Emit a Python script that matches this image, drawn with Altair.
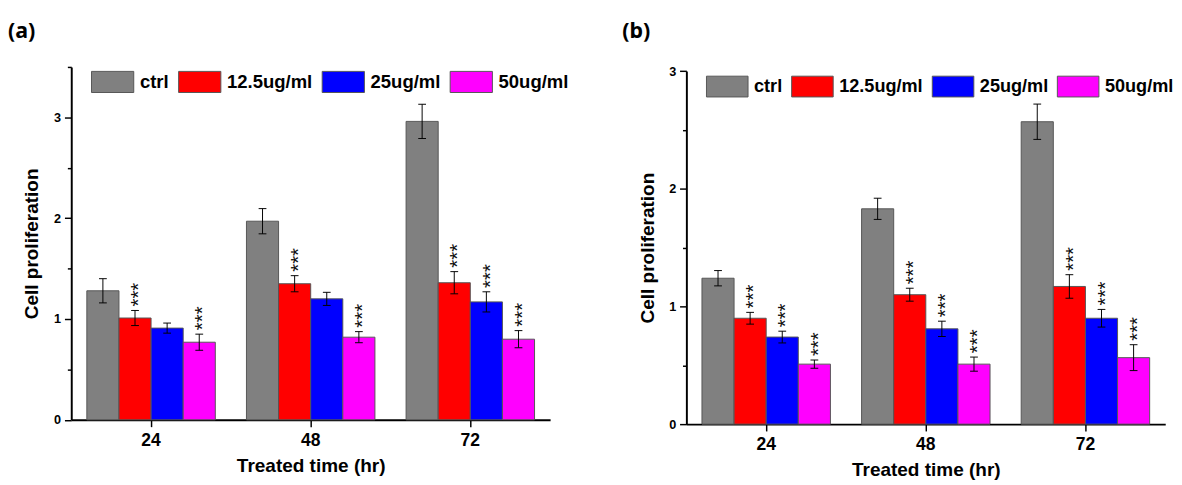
import altair as alt
import pandas as pd

times = ["24", "48", "72"]
series = ["ctrl", "12.5ug/ml", "25ug/ml", "50ug/ml"]
colors = ["#808080", "#ff0000", "#0000ff", "#ff00ff"]

# panel (a)
a_ctrl = [1.28, 1.97, 2.96]
a_ctrl_err = [0.12, 0.125, 0.17]
a_125 = [1.01, 1.35, 1.36]
a_125_err = [0.075, 0.08, 0.11]
a_25 = [0.91, 1.20, 1.17]
a_25_err = [0.05, 0.065, 0.10]
a_50 = [0.77, 0.82, 0.80]
a_50_err = [0.08, 0.055, 0.085]
a_sig_ctrl = [False, False, False]
a_sig_125 = [True, True, True]
a_sig_25 = [False, False, True]
a_sig_50 = [True, True, True]

# panel (b)
b_ctrl = [1.24, 1.83, 2.57]
b_ctrl_err = [0.065, 0.09, 0.15]
b_125 = [0.90, 1.10, 1.17]
b_125_err = [0.05, 0.055, 0.10]
b_25 = [0.74, 0.81, 0.90]
b_25_err = [0.05, 0.065, 0.075]
b_50 = [0.51, 0.51, 0.565]
b_50_err = [0.035, 0.06, 0.11]
b_sig_ctrl = [False, False, False]
b_sig_125 = [True, True, True]
b_sig_25 = [True, True, True]
b_sig_50 = [True, True, True]


def build(vals, errs, sigs):
    rows = []
    for s, v, e, g in zip(series, vals, errs, sigs):
        for t, vv, ee, gg in zip(times, v, e, g):
            rows.append({"time": t, "series": s, "value": vv,
                         "lo": vv - ee, "hi": vv + ee, "sig": gg})
    return pd.DataFrame(rows)


df_a = build([a_ctrl, a_125, a_25, a_50],
             [a_ctrl_err, a_125_err, a_25_err, a_50_err],
             [a_sig_ctrl, a_sig_125, a_sig_25, a_sig_50])
df_b = build([b_ctrl, b_125, b_25, b_50],
             [b_ctrl_err, b_125_err, b_25_err, b_50_err],
             [b_sig_ctrl, b_sig_125, b_sig_25, b_sig_50])

FONT = "Arial"


def panel(df, label, ymax, height, yrange, lx, ly, label_dx, lfs, lsym, lpad):
    base = alt.Chart(df)
    x = alt.X("time:N", sort=times,
              scale=alt.Scale(paddingInner=0, paddingOuter=0),
              axis=alt.Axis(title="Treated time (hr)", labelAngle=0,
                            labelFont=FONT, labelFontSize=18, labelFontWeight="bold",
                            labelColor="black", labelPadding=5,
                            tickSize=7, tickWidth=1.5, tickColor="black",
                            domainWidth=2, domainColor="black",
                            titleFont=FONT, titleFontSize=19.5, titleFontWeight="bold",
                            titleColor="black", titlePadding=8))
    xo = alt.XOffset("series:N", sort=series,
                     scale=alt.Scale(paddingInner=0, paddingOuter=0.485))
    ticks = [i * 0.5 for i in range(int(ymax * 2) + 1)]
    y = alt.Y("value:Q",
              scale=alt.Scale(domain=[0, ymax], range=yrange, nice=False),
              axis=alt.Axis(title="Cell proliferation", values=ticks, grid=False,
                            labelExpr="datum.value % 1 === 0 ? format(datum.value, 'd') : ''",
                            tickSize={"condition": {"test": "datum.value % 1 === 0", "value": 7}, "value": 4},
                            tickWidth=1.5, tickColor="black",
                            domainWidth=2, domainColor="black",
                            labelFont=FONT, labelFontSize=13, labelFontWeight="bold",
                            labelColor="black", labelPadding=4,
                            titleFont=FONT, titleFontSize=19.5, titleFontWeight="bold",
                            titleColor="black", titlePadding=12))
    color = alt.Color("series:N", sort=series,
                      scale=alt.Scale(domain=series, range=colors),
                      legend=alt.Legend(orient="none", legendX=lx, legendY=ly,
                                        direction="horizontal", title=None,
                                        symbolType="M-1,-0.5H1V0.5H-1Z", symbolSize=lsym * lsym,
                                        symbolStrokeColor="#555555", symbolStrokeWidth=1,
                                        symbolOpacity=1,
                                        labelFont=FONT, labelFontSize=lfs,
                                        labelFontWeight="bold", labelColor="black",
                                        labelOffset=5.5, columnPadding=lpad, padding=0))
    bars = base.mark_bar(stroke="#555555", strokeWidth=1, opacity=1).encode(
        x=x, xOffset=xo, y=y, color=color)
    rules = base.mark_rule(color="black", strokeWidth=1).encode(
        x=x, xOffset=xo, y="lo:Q", y2="hi:Q")
    cap_hi = base.mark_tick(color="black", thickness=1, size=8, opacity=1).encode(
        x=x, xOffset=xo, y="hi:Q")
    cap_lo = base.mark_tick(color="black", thickness=1, size=8, opacity=1).encode(
        x=x, xOffset=xo, y="lo:Q")
    stars = base.transform_filter("datum.sig").mark_text(
        text="***", angle=270, align="left", baseline="middle", dx=4, dy=4.5,
        fontSize=21, font=FONT, color="#111111").encode(
        x=x, xOffset=xo, y="hi:Q")
    lab = alt.Chart(pd.DataFrame({"t": [label]})).mark_text(
        font="Noto Sans", fontSize=22, fontWeight="bold", color="black",
        align="left", baseline="alphabetic").encode(
        text="t:N", x=alt.value(label_dx), y=alt.value(-29.5))
    return alt.layer(bars, rules, cap_hi, cap_lo, stars, lab).properties(
        width=492, height=height)


pa = panel(df_a, "(a)", 3.5, 362.6, [362.6, 0], 20, -7.4, -65, 19, 43.4, 6.5)
pb = panel(df_b, "(b)", 3.0, 367.0, [367.0, 4.3], 20, -2, -66, 18.6, 42.7, 6.5)

chart = alt.hconcat(pa, pb, spacing=55).resolve_scale(
    color="independent", x="independent", y="independent", xOffset="independent"
).resolve_legend(color="independent").properties(
    padding={"left": 0, "top": 6, "right": 0, "bottom": 0}
).configure_view(strokeWidth=0)

chart.save("out.html", embed_options={"renderer": "svg", "actions": False})
